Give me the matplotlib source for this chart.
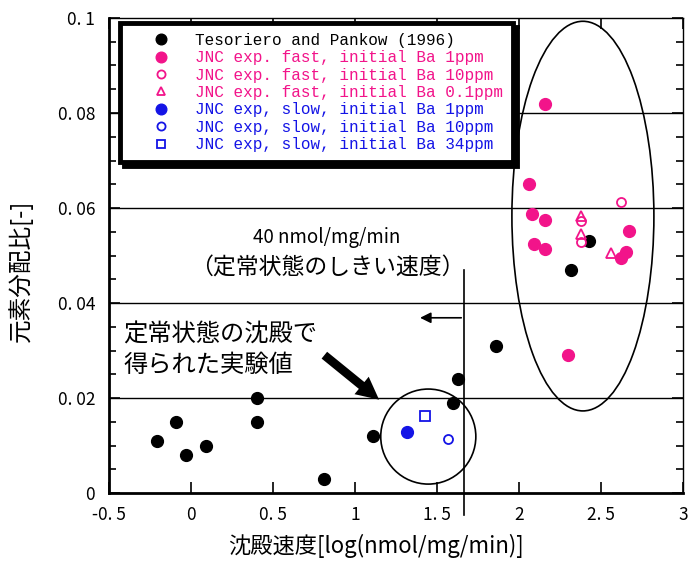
import matplotlib.pyplot as plt
from matplotlib.patches import Ellipse

plt.rcParams['font.family'] = ['Noto Sans CJK JP', 'DejaVu Sans']

PINK = '#f2148a'
BLUE = '#1414e6'

# Tesoriero and Pankow (1996)
tp_x = [-0.21, -0.09, -0.03, 0.09, 0.40, 0.40, 0.81, 1.11, 1.60, 1.63, 1.86, 2.43, 2.32]
tp_y = [0.011, 0.015, 0.008, 0.010, 0.020, 0.015, 0.003, 0.012, 0.019, 0.024, 0.031, 0.053, 0.047]

# JNC fast, initial Ba 1ppm / 10ppm / 0.1ppm
fast1_x = [2.16, 2.06, 2.08, 2.16, 2.09, 2.16, 2.67, 2.65, 2.62, 2.30]
fast1_y = [0.0819, 0.0651, 0.0587, 0.0575, 0.0524, 0.0514, 0.0551, 0.0507, 0.0494, 0.029]
fast10_x = [2.62, 2.38, 2.38]
fast10_y = [0.0612, 0.0572, 0.0528]
fast01_x = [2.38, 2.38, 2.56]
fast01_y = [0.0584, 0.0545, 0.0505]

# JNC slow, initial Ba 1ppm / 10ppm / 34ppm
slow1_x, slow1_y = [1.32], [0.0128]
slow10_x, slow10_y = [1.57], [0.0114]
slow34_x, slow34_y = [1.43], [0.0163]

LABELS = ["Tesoriero and Pankow (1996)",
          "JNC exp. fast, initial Ba 1ppm",
          "JNC exp. fast, initial Ba 10ppm",
          "JNC exp. fast, initial Ba 0.1ppm",
          "JNC exp, slow, initial Ba 1ppm",
          "JNC exp, slow, initial Ba 10ppm",
          "JNC exp, slow, initial Ba 34ppm"]

x_ticks = [-0.5, 0, 0.5, 1, 1.5, 2, 2.5, 3]
x_tick_labels = ['-0. 5', '0', '0. 5', '1', '1. 5', '2', '2. 5', '3']
y_ticks = [0, 0.02, 0.04, 0.06, 0.08, 0.1]
y_tick_labels = ['0', '0. 02', '0. 04', '0. 06', '0. 08', '0. 1']

THRESHOLD = 1.665   # 40 nmol/mg/min on the plotted scale


def main():
    fig = plt.figure(figsize=(6.99, 5.61), dpi=100)
    ax = fig.add_axes([0.156, 0.121, 0.821, 0.847])

    ax.set_xlim(-0.5, 3)
    ax.set_ylim(0, 0.1)

    for y in [0.02, 0.04, 0.06, 0.08]:
        ax.axhline(y, color='k', linewidth=1.0, zorder=1)

    ms = 8.5
    ax.plot(tp_x, tp_y, 'o', color='k', markersize=ms, zorder=3, label=LABELS[0])
    ax.plot(fast1_x, fast1_y, 'o', color=PINK, markersize=ms, zorder=3, label=LABELS[1])
    ax.plot(fast10_x, fast10_y, 'o', mfc='white', mec=PINK, mew=1.3, markersize=6.5, zorder=4, label=LABELS[2])
    ax.plot(fast01_x, fast01_y, '^', mfc='none', mec=PINK, mew=1.3, markersize=7, zorder=4, label=LABELS[3])
    ax.plot(slow1_x, slow1_y, 'o', color=BLUE, markersize=ms, zorder=3, label=LABELS[4])
    ax.plot(slow10_x, slow10_y, 'o', mfc='none', mec=BLUE, mew=1.3, markersize=6.5, zorder=4, label=LABELS[5])
    ax.plot(slow34_x, slow34_y, 's', mfc='none', mec=BLUE, mew=1.3, markersize=6.5, zorder=4, label=LABELS[6])

    # groupings
    ax.add_patch(Ellipse((2.39, 0.0583), 0.866, 0.082, fill=False, color='k', linewidth=1.2, zorder=2))
    ax.add_patch(Ellipse((1.447, 0.0119), 0.58, 0.020, fill=False, color='k', linewidth=1.2, zorder=2))

    # threshold line and arrow
    ax.plot([THRESHOLD, THRESHOLD], [0.047, -0.0045], color='k', linewidth=1.2, clip_on=False, zorder=2)
    ax.annotate('', xy=(1.38, 0.0369), xytext=(THRESHOLD, 0.0369),
                arrowprops=dict(arrowstyle='-|>', color='k', lw=1.2, mutation_scale=16))
    ax.text(0.83, 0.0539, '40 nmol/mg/min', ha='center', va='center', fontsize=13.5)
    ax.text(0.83, 0.0474, '（定常状態のしきい速度）', ha='center', va='center', fontsize=16.5)

    ax.text(-0.415, 0.0333, '定常状態の沈殿で', ha='left', va='center', fontsize=17.5)
    ax.text(-0.415, 0.0269, '得られた実験値', ha='left', va='center', fontsize=17.5)
    ax.annotate('', xy=(1.16, 0.0193), xytext=(0.80, 0.0294),
                arrowprops=dict(arrowstyle='simple,head_length=0.9,head_width=0.9,tail_width=0.35',
                                color='k', lw=0, mutation_scale=18))

    ax.set_xticks(x_ticks)
    ax.set_xticklabels(x_tick_labels)
    ax.set_yticks(y_ticks)
    ax.set_yticklabels(y_tick_labels)
    ax.set_yticks([i * 0.005 for i in range(21)], minor=True)
    ax.tick_params(which='both', direction='in', top=True, right=True, labelsize=12.5, width=1.2)
    ax.tick_params(which='major', length=8)
    ax.tick_params(which='minor', length=5)
    ax.tick_params(axis='x', which='major', pad=9)
    ax.tick_params(axis='y', which='major', pad=10)
    for side in ['left', 'bottom']:
        ax.spines[side].set_linewidth(2)
    for side in ['top', 'right']:
        ax.spines[side].set_linewidth(1)

    ax.set_xlabel('沈殿速度[log(nmol/mg/min)]', fontsize=16)
    ax.xaxis.set_label_coords(0.465, -0.085)
    ax.set_ylabel('元素分配比[-]', fontsize=17)
    ax.yaxis.set_label_coords(-0.132, 0.467)

    leg = ax.legend(loc='upper left', bbox_to_anchor=(0.019, 0.989), frameon=True, fancybox=False,
                    shadow={'color': 'k', 'alpha': 1, 'ox': 3, 'oy': -3},
                    prop={'family': 'Liberation Mono', 'size': 11.5},
                    labelspacing=0.15, handletextpad=0.1, borderpad=0.6, handlelength=4.0,
                    borderaxespad=0, markerscale=0.9)
    leg.get_frame().set_edgecolor('k')
    leg.get_frame().set_linewidth(3.5)
    for txt, c in zip(leg.get_texts(), ['k', PINK, PINK, PINK, BLUE, BLUE, BLUE]):
        txt.set_color(c)

    fig.savefig('out.png', dpi=100)


main()
